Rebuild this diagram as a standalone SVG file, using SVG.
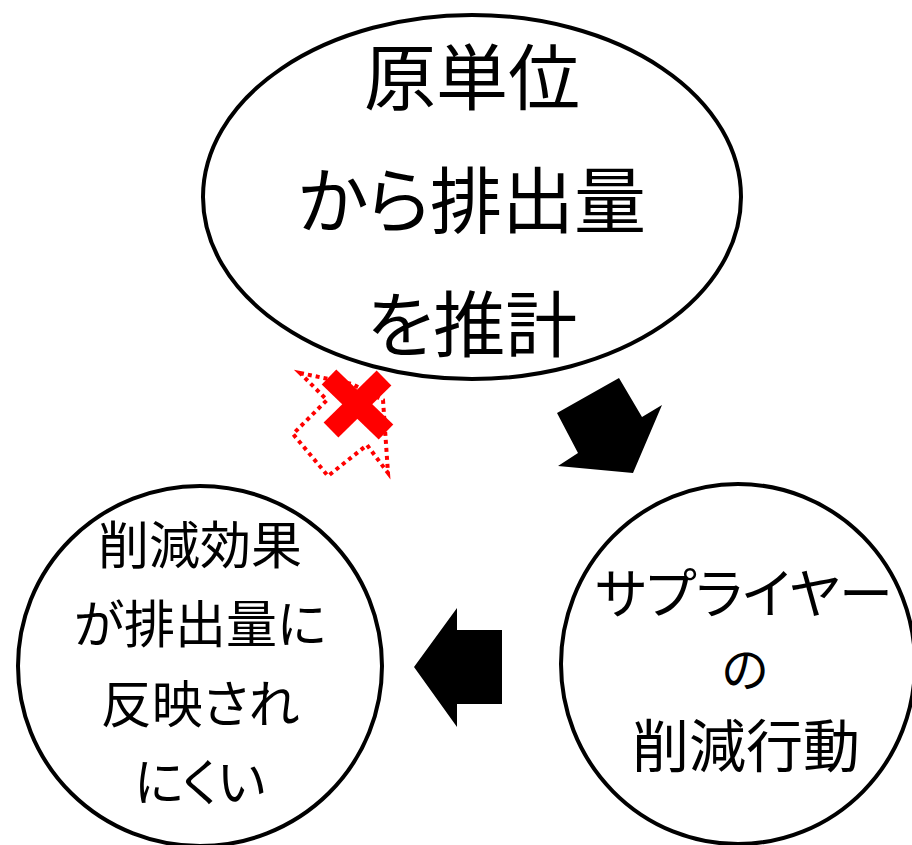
<svg xmlns="http://www.w3.org/2000/svg" width="912" height="845" viewBox="0 0 912 845">
<style>
.node{fill:#fff;stroke:#000;stroke-width:4}
.t{font-family:"Noto Sans CJK JP","Noto Sans CJK SC",sans-serif;fill:#000;text-anchor:middle;font-feature-settings:"palt"}
.arr{fill:#000;stroke:none}
.dot{fill:none;stroke:#ff0000;stroke-width:4;stroke-dasharray:4 4}
.x{stroke:#ff0000;stroke-width:21;stroke-linecap:butt}
</style>
<rect width="912" height="845" fill="#fff"/>
<g id="node-top">
<ellipse class="node" cx="472" cy="197" rx="269" ry="182"/>
<text class="t" x="472" y="104" font-size="72">原単位</text>
<text class="t" x="472" y="227" font-size="72">から排出量</text>
<text class="t" x="472" y="351" font-size="72">を推計</text>
</g>
<g id="node-right">
<ellipse class="node" cx="738" cy="664" rx="177" ry="180"/>
<text class="t" x="744" y="614" font-size="54">サプライヤー</text>
<text class="t" x="745" y="687" font-size="48">の</text>
<text class="t" x="746" y="767" font-size="57">削減行動</text>
</g>
<g id="node-left">
<ellipse class="node" cx="200" cy="666" rx="182" ry="180"/>
<text class="t" x="200" y="564" font-size="51">削減効果</text>
<text class="t" x="200" y="643" font-size="51">が排出量に</text>
<text class="t" x="200" y="723" font-size="51">反映され</text>
<text class="t" x="200" y="801" font-size="51">にくい</text>
</g>
<g id="connectors">
<polygon class="arr" points="557,413 619,378 642,417 662,405 633,473 558,466 578,453"/>
<polygon class="arr" points="414,667 457,608 457,630 502,630 502,704 457,704 457,727"/>
<polygon class="dot" points="300,373 352,384 383,400 388,473 367,445 328,476 293,434 327,400"/>
<line class="x" x1="329" y1="377" x2="386" y2="432"/>
<line class="x" x1="384" y1="378" x2="331" y2="430"/>
</g>
</svg>
